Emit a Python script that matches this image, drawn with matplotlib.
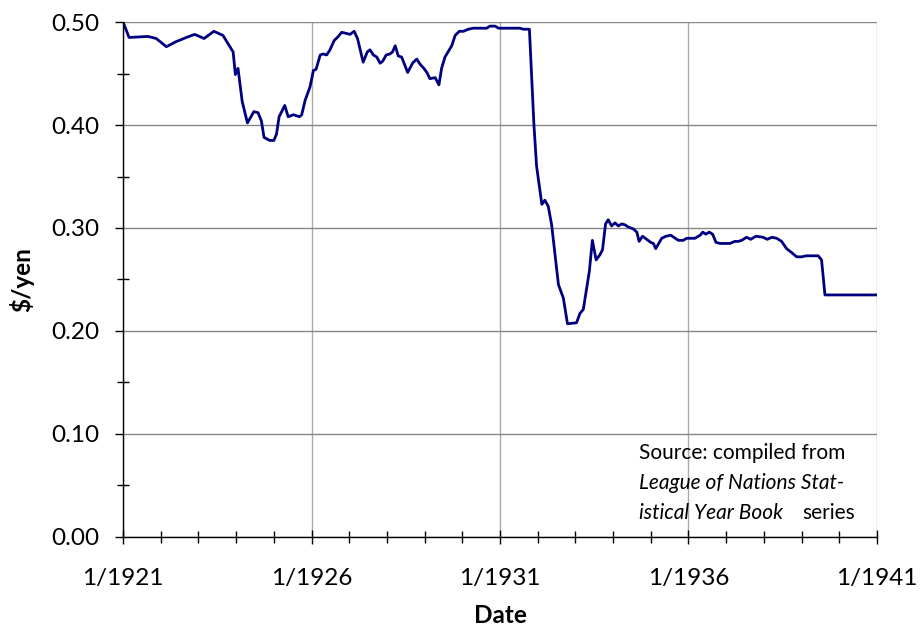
import matplotlib
matplotlib.use("Agg")
import matplotlib.pyplot as plt
from matplotlib.ticker import MultipleLocator, FixedLocator

# yen exchange rate (decimal years, $ per yen)
years = [1921.00, 1921.16, 1921.66, 1921.88, 1922.15, 1922.41, 1922.68, 1922.90,
         1923.15, 1923.41, 1923.65, 1923.92, 1923.98, 1924.05, 1924.16, 1924.30,
         1924.47, 1924.58, 1924.67, 1924.74, 1924.89, 1925.00, 1925.07, 1925.14,
         1925.29, 1925.38, 1925.52, 1925.68, 1925.74, 1925.83, 1925.96, 1926.05,
         1926.12, 1926.23, 1926.31, 1926.40, 1926.49, 1926.60, 1926.71, 1926.80,
         1926.92, 1927.02, 1927.13, 1927.22, 1927.37, 1927.48, 1927.55, 1927.64,
         1927.73, 1927.82, 1927.89, 1927.98, 1928.08, 1928.15, 1928.22, 1928.30,
         1928.39, 1928.55, 1928.68, 1928.79, 1928.88, 1928.98, 1929.06, 1929.14,
         1929.28, 1929.38, 1929.45, 1929.54, 1929.72, 1929.81, 1929.92, 1930.03,
         1930.16, 1930.29, 1930.65, 1930.73, 1930.87, 1930.96, 1931.53, 1931.62,
         1931.78, 1931.90, 1931.97, 1932.11, 1932.19, 1932.28, 1932.37, 1932.55,
         1932.68, 1932.79, 1933.03, 1933.12, 1933.21, 1933.37, 1933.45, 1933.55,
         1933.65, 1933.72, 1933.80, 1933.87, 1933.96, 1934.05, 1934.14, 1934.23,
         1934.32, 1934.40, 1934.54, 1934.63, 1934.69, 1934.78, 1934.89, 1935.00,
         1935.07, 1935.13, 1935.29, 1935.40, 1935.53, 1935.73, 1935.86, 1935.95,
         1936.17, 1936.31, 1936.38, 1936.46, 1936.55, 1936.64, 1936.73, 1936.84,
         1937.10, 1937.23, 1937.32, 1937.41, 1937.54, 1937.65, 1937.79, 1937.98,
         1938.09, 1938.21, 1938.34, 1938.47, 1938.60, 1938.74, 1938.87, 1939.00,
         1939.12, 1939.23, 1939.44, 1939.53, 1939.62, 1941.00]
rate = [0.500, 0.485, 0.486, 0.484, 0.476, 0.481, 0.485, 0.488,
        0.484, 0.491, 0.487, 0.471, 0.449, 0.455, 0.423, 0.402,
        0.413, 0.412, 0.404, 0.388, 0.385, 0.385, 0.391, 0.408,
        0.419, 0.408, 0.410, 0.408, 0.410, 0.424, 0.437, 0.453,
        0.454, 0.468, 0.469, 0.468, 0.473, 0.482, 0.486, 0.490,
        0.489, 0.488, 0.491, 0.484, 0.461, 0.471, 0.473, 0.468,
        0.466, 0.460, 0.462, 0.468, 0.469, 0.471, 0.477, 0.467,
        0.466, 0.451, 0.460, 0.464, 0.459, 0.455, 0.451, 0.445,
        0.446, 0.439, 0.455, 0.466, 0.477, 0.487, 0.491, 0.491,
        0.493, 0.494, 0.494, 0.496, 0.496, 0.494, 0.494, 0.493,
        0.493, 0.400, 0.360, 0.323, 0.327, 0.321, 0.303, 0.245,
        0.232, 0.207, 0.208, 0.217, 0.221, 0.258, 0.288, 0.269,
        0.274, 0.279, 0.304, 0.308, 0.302, 0.305, 0.302, 0.304,
        0.303, 0.301, 0.299, 0.296, 0.287, 0.292, 0.289, 0.286,
        0.285, 0.280, 0.290, 0.292, 0.293, 0.288, 0.288, 0.290,
        0.290, 0.293, 0.296, 0.294, 0.296, 0.294, 0.286, 0.285,
        0.285, 0.287, 0.287, 0.288, 0.291, 0.289, 0.292, 0.291,
        0.289, 0.291, 0.290, 0.287, 0.280, 0.276, 0.272, 0.272,
        0.273, 0.273, 0.273, 0.269, 0.235, 0.235]

tick_years = [1921, 1926, 1931, 1936, 1941]
tick_labels = ["1/1921", "1/1926", "1/1931", "1/1936", "1/1941"]

plt.rcParams['font.family'] = ['Lato', 'DejaVu Sans']

fig = plt.figure(figsize=(9.21, 6.29), dpi=100)
ax = fig.add_axes([0.1336, 0.1463, 0.8186, 0.8187])

ax.plot(years, rate, color='#000080', linewidth=2.0, zorder=3)

ax.set_xlim(1921, 1941)
ax.set_ylim(0, 0.5)
ax.xaxis.set_major_locator(FixedLocator(tick_years))
ax.set_xticklabels(tick_labels)
ax.xaxis.set_minor_locator(MultipleLocator(1))
ax.yaxis.set_major_locator(MultipleLocator(0.1))
ax.yaxis.set_minor_locator(MultipleLocator(0.05))
ax.yaxis.set_major_formatter(matplotlib.ticker.FormatStrFormatter('%.2f'))

ax.xaxis.grid(True, which='major', color='#ababab', linewidth=1.0, zorder=1)
ax.yaxis.grid(True, which='major', color='#858585', linewidth=1.0, zorder=1)
for s in ['top', 'right']:
    ax.spines[s].set_visible(False)
for s in ['left', 'bottom']:
    ax.spines[s].set_linewidth(1.0)
    ax.spines[s].set_zorder(4)

ax.tick_params(axis='x', which='major', direction='inout', length=10, width=1, labelsize=17.5, pad=17)
ax.tick_params(axis='x', which='minor', direction='inout', length=8.5, width=1)
ax.tick_params(axis='y', which='major', direction='out', length=6, width=1, labelsize=17.5, pad=11)
ax.tick_params(axis='y', which='minor', direction='inout', length=9, width=1)

ax.set_xlabel('Date', fontsize=17.5, fontweight='bold', labelpad=11)
ax.set_ylabel('$/yen', fontsize=17.5, fontweight='bold', labelpad=12)

ax.text(1934.69, 0.0816, 'Source: compiled from', fontsize=15, va='center')
ax.text(1934.69, 0.0524, 'League of Nations Stat-', fontsize=15, style='italic', va='center')
ax.text(1934.69, 0.0233, 'istical Year Book', fontsize=15, style='italic', va='center')
ax.text(1940.42, 0.0233, 'series', fontsize=15, va='center', ha='right')

fig.savefig('out.png', dpi=100)
